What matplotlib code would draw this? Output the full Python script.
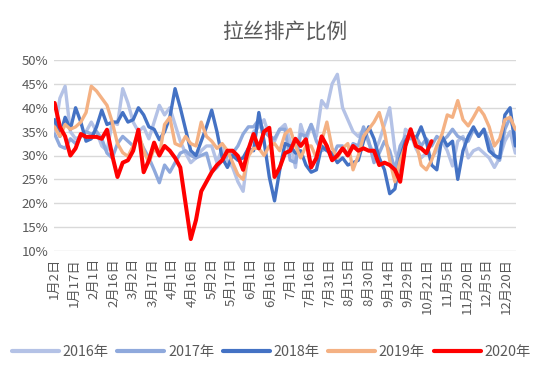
import numpy as np
import matplotlib
matplotlib.use("Agg")
import matplotlib.pyplot as plt

plt.rcParams['font.family'] = ['Noto Sans CJK SC', 'DejaVu Sans']

title = "拉丝排产比例"
tick_labels = ["1月2日", "1月17日", "2月1日", "2月16日", "3月2日", "3月17日", "4月1日",
               "4月16日", "5月2日", "5月17日", "6月1日", "6月16日", "7月1日", "7月16日",
               "7月31日", "8月15日", "8月30日", "9月14日", "9月29日", "10月21日",
               "11月5日", "11月20日", "12月5日", "12月20日"]
series_names = ["2016年", "2017年", "2018年", "2019年", "2020年"]

# values (%) sampled every 4 categories (trading-day axis)
s2016 = [35, 42, 44.5, 35, 33.5, 34, 35, 37, 35, 32, 31, 37, 36.5, 44, 41, 37, 35, 36, 33.5, 37,
         40.5, 38.5, 40, 36.5, 33, 30.5, 28.5, 29.5, 31, 32, 32, 28.5, 31.5, 29, 27.5, 24.5, 22.5,
         31, 35, 36, 37.5, 34, 33, 35.5, 36.5, 33, 27.5, 36.5, 33, 36.5, 34, 41.5, 40, 45, 47, 40,
         37.5, 35, 34, 35.5, 32.5, 30.5, 33, 36.5, 40, 31, 27.5, 35.5, 34.5, 31.5, 29.5, 30.5, 29.5,
         31, 33, 31, 27.8, 33, 34, 29.5, 31, 31.5, 30.5, 29.5, 27.5, 29.5, 33, 35, 30.5]
s2017 = [34.5, 32, 31.5, 33.5, 32.5, 34, 35, 34.5, 35, 33.5, 30.5, 29.5, 32.5, 34, 33, 32, 34, 31.5,
         29.5, 27, 24.3, 28, 26.5, 28.5, 30.5, 31, 30, 29.5, 30, 30.5, 26.5, 27.5, 29, 30, 30.5, 32,
         34.5, 36, 36, 37.5, 35, 34, 33.5, 35.5, 35.5, 29, 28.5, 34.5, 34, 36.5, 33, 31, 31.5, 29.5,
         32, 32, 30, 32.5, 32, 36, 33, 28.5, 30.5, 33, 31, 27, 32, 34, 33.5, 34, 32, 33.5, 32, 34,
         33, 34, 35.5, 34, 33.5, 33, 35.5, 34, 35.5, 33, 30, 29, 35.5, 38, 34]
s2018 = [37.5, 34, 38, 35.5, 40, 37, 33, 33.5, 36, 39.5, 36.5, 37, 37, 39, 37, 37.5, 40, 38.5, 36,
         35.5, 33.3, 35, 38, 44, 40, 35.5, 31, 30, 33, 36, 39.5, 35, 29.5, 27.5, 30, 29, 29.5, 31.5,
         31, 39, 33, 25.5, 20.5, 27, 32.5, 32, 30.5, 31, 28, 26.5, 27, 32, 31, 30.5, 28.5, 29.5, 28,
         28.5, 29, 33, 36, 33.5, 29.5, 27, 22, 23, 29.5, 33, 34.5, 33.5, 36, 33, 28, 27, 34, 32, 33,
         25, 31, 34, 36, 34, 35.5, 31, 30, 29.5, 38.5, 40, 32]
s2019 = [36, 34, 36.5, 35.5, 36, 37, 39, 44.5, 43.5, 42, 40.5, 37, 32.5, 30.6, 29.8, 32, 34.8, 31,
         28.5, 31.5, 30, 36.5, 38, 32.5, 32, 34, 32.5, 32, 37, 34, 33, 31.5, 32.5, 31, 28.5, 26, 25,
         29.9, 31.5, 31.5, 30, 32, 32.5, 31, 34.5, 35.5, 32, 29.5, 32, 32, 29.5, 33, 37, 31.5, 29.5,
         31.5, 32.5, 27, 30, 34, 35.5, 37, 39, 35, 29, 24.5, 29, 32, 35, 33, 28, 27, 29, 32, 34.5,
         38.5, 38, 41.5, 37.5, 36.2, 38, 40, 38.5, 36, 32, 33.5, 37.5, 38, 35.5]
s2020 = [41, 36, 34, 30, 31.5, 34.5, 33.9, 33.9, 33.9, 33.5, 35.4, 30, 25.5, 28.5, 29, 31, 35.4,
         26.5, 29, 32.7, 30, 32, 31, 29.5, 27.5, 20, 12.5, 16.5, 22.5, 24.5, 26.5, 28, 29, 31, 31,
         29.9, 27, 31.3, 34.5, 31.5, 35, 35.8, 25.5, 27.5, 30.5, 31, 33.5, 32, 33.4, 27.5, 29.5, 34,
         32, 29, 30, 31.5, 30, 32, 31, 31.5, 31, 31, 28, 28.5, 28, 27, 24.5, 32, 35.5, 32, 31.5,
         30.5, 33]
series = [s2016, s2017, s2018, s2019, s2020]
colors = ["#B4C2E6", "#8FA9DC", "#4472C4", "#F4B183", "#FF0000"]
widths = [2.4, 2.4, 2.4, 2.4, 2.9]
step = 4
n_categories = 353

fig = plt.figure(figsize=(5.37, 3.67), dpi=100)
ax = fig.add_axes([54/537, 1-251/367, (516-54)/537, (251-60)/367])

for name, vals, c, w in zip(series_names, series, colors, widths):
    x = np.arange(len(vals)) * step
    ax.plot(x, np.array(vals) / 100.0, color=c, lw=w, label=name,
            solid_joinstyle='round', solid_capstyle='round')

ax.set_xlim(-0.5, n_categories - 0.5)
ax.set_ylim(0.10, 0.50)
ax.set_yticks(np.arange(0.10, 0.501, 0.05))
ax.set_yticklabels([f"{int(round(v*100))}%" for v in np.arange(0.10, 0.501, 0.05)])
ax.set_xticks(np.arange(len(tick_labels)) * 15)
ax.set_xticklabels(tick_labels, rotation=90, fontsize=9.5, color="#595959")
ax.tick_params(axis='both', length=0, colors="#595959", labelsize=9.5)
ax.tick_params(axis='x', pad=5)
ax.tick_params(axis='y', pad=4)
ax.grid(axis='y', color="#D9D9D9", lw=1)
ax.set_axisbelow(True)
for s in ax.spines.values():
    s.set_visible(False)

fig.suptitle(title, x=(54+516)/2/537, y=1-21/367, fontsize=15, color="#595959", va='top')

leg = fig.legend(*ax.get_legend_handles_labels(), loc='center', ncol=5,
                 bbox_to_anchor=(0.505, 1-352/367), frameon=False, fontsize=10.3,
                 handlelength=3.3, handletextpad=0.25, columnspacing=0.6,
                 labelcolor="#595959")
for l in leg.get_lines():
    l.set_linewidth(3)

fig.savefig("out.png", dpi=100)
